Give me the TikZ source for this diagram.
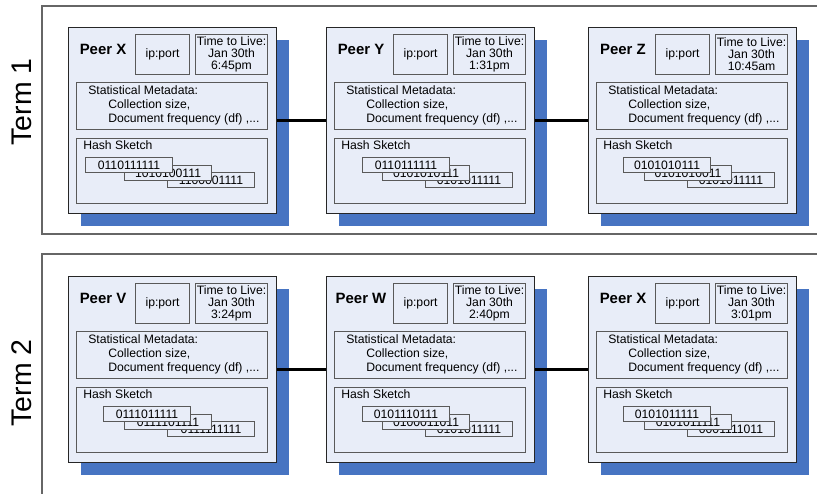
\documentclass[tikz,border=0pt]{standalone}
\usepackage{fontspec}
\setmainfont{Liberation Sans}
\definecolor{peerfill}{HTML}{E8EDF8}
\definecolor{shadowblue}{HTML}{4774C2}
\begin{document}
\begin{tikzpicture}[x=0.75pt, y=-0.75pt, font=\fontsize{9.15}{10.5}\selectfont,
	frame/.style={draw=black!60, line width=1pt},
	shadow/.style={fill=shadowblue, minimum width=156pt, minimum height=139.5pt, anchor=north west, inner sep=0pt},
	peer/.style={draw=black!85, fill=peerfill, line width=0.9pt, minimum width=156pt, minimum height=139.5pt, anchor=north west, inner sep=0pt},
	part/.style={draw=black!65, fill=peerfill, line width=0.8pt, anchor=north west, inner sep=0pt},
	bits/.style={part, minimum width=65.25pt, minimum height=11.25pt},
	conn/.style={line width=2.2pt}]
	\clip (0,0) rectangle (817,493);
	\fill[white] (0,0) rectangle (817,493);
	\draw[frame] (42,6) rectangle (840,234);
	\draw[frame] (42,254) rectangle (840,520);
	\node[rotate=90, font=\fontsize{21.3}{24}\selectfont] (term1) at (22,102) {Term 1};
	\node[rotate=90, font=\fontsize{21.3}{24}\selectfont] (term2) at (22,383) {Term 2};
	\foreach \n/\x/\y/\lab/\t/\ba/\bb/\bc/\o in {
		11/68/27/X/6:45pm/0110111111/1010100111/1100001111/17,
		12/326/27/Y/1:31pm/0110111111/0101010111/0101011111/36,
		13/588/27/Z/10:45am/0101010111/0101010011/0101011111/35,
		21/68/276/V/3:24pm/0111011111/0111101111/0111111111/35,
		22/326/276/W/2:40pm/0101110111/0100011011/0101011111/36,
		23/588/276/X/3:01pm/0101011111/0101011111/0001111011/35}
	{
		\begin{scope}[shift={(\x,\y)}]
			\node[shadow] (sh\n) at (13,13) {};
			\node[peer] (peer\n) at (0,0) {};
			\node[font=\bfseries\fontsize{11.2}{13}\selectfont] (lab\n) at (35,22) {Peer \lab};
			\node[part, minimum width=40.5pt, minimum height=30pt] (ip\n) at (67,7) {ip:port};
			\node[part, minimum width=54pt, minimum height=30pt, align=center, font=\fontsize{9.15}{9}\selectfont] (ttl\n) at (127,7) {Time to Live:\\Jan 30th\\\t};
			\node[part, minimum width=143.25pt, minimum height=35.25pt] (stat\n) at (8,55) {};
			\node[anchor=west, align=left, inner sep=0pt] (stattxt\n) at (20,78) {Statistical Metadata:\\\hspace*{15pt}Collection size,\\\hspace*{15pt}Document frequency (df) ,...};
			\node[part, minimum width=143.25pt, minimum height=48.75pt] (hash\n) at (8,111) {};
			\node[anchor=west, inner sep=0pt] (hashtxt\n) at (15,118) {Hash Sketch};
			\node[bits] (c\n) at (99,145) {\bc};
			\node[bits] (b\n) at (56,138) {\bb};
			\node[bits] (a\n) at (\o,130) {\ba};
		\end{scope}
	}
	\draw[conn] (peer11) -- (peer12);
	\draw[conn] (peer12) -- (peer13);
	\draw[conn] (peer21) -- (peer22);
	\draw[conn] (peer22) -- (peer23);
\end{tikzpicture}
\end{document}
